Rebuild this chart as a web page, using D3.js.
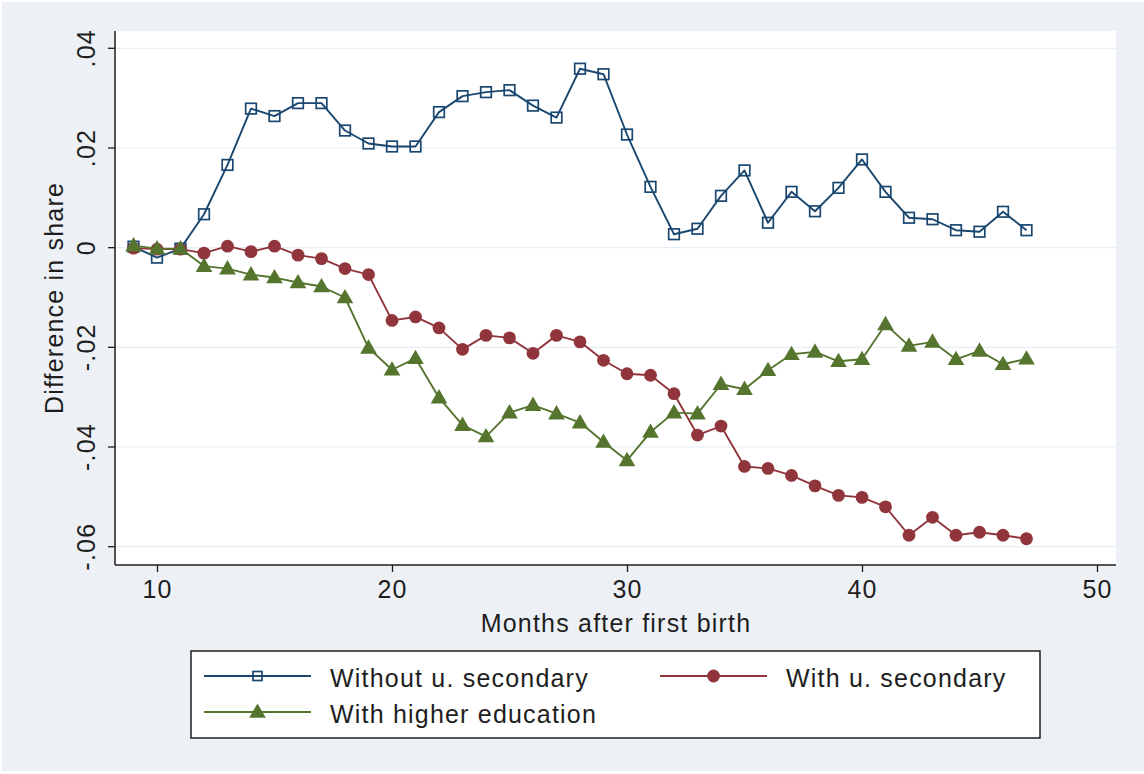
<!DOCTYPE html>
<html>
<head>
<meta charset="utf-8">
<script src="https://cdn.jsdelivr.net/npm/d3@7/dist/d3.min.js"></script>
<style>
  html, body { margin: 0; padding: 0; background: #ffffff; }
  svg { display: block; }
  text { font-family: "Liberation Sans", Arial, sans-serif; fill: #1e1e1e; letter-spacing: 1.2px; }
</style>
</head>
<body>
<svg id="chart" width="1144" height="774"></svg>
<script>
// Months after first birth
const months = [9,10,11,12,13,14,15,16,17,18,19,20,21,22,23,24,25,26,27,28,29,30,31,32,33,34,35,36,37,38,39,40,41,42,43,44,45,46,47];

// Difference in share, by education group
const withoutUSecondary = [0.0002,-0.0020,-0.0002,0.0067,0.0166,0.0279,0.0264,0.0290,0.0290,0.0235,0.0209,0.0203,0.0203,0.0272,0.0304,0.0312,0.0316,0.0285,0.0261,0.0359,0.0348,0.0227,0.0122,0.0027,0.0038,0.0104,0.0155,0.0050,0.0112,0.0073,0.0120,0.0177,0.0112,0.0060,0.0057,0.0035,0.0032,0.0072,0.0035];
const withUSecondary = [-0.0001,-0.0003,-0.0003,-0.0011,0.0003,-0.0008,0.0003,-0.0015,-0.0022,-0.0042,-0.0054,-0.0146,-0.0139,-0.0161,-0.0204,-0.0176,-0.0181,-0.0212,-0.0176,-0.0189,-0.0226,-0.0253,-0.0256,-0.0293,-0.0376,-0.0358,-0.0439,-0.0443,-0.0457,-0.0478,-0.0497,-0.0501,-0.0520,-0.0577,-0.0541,-0.0577,-0.0571,-0.0577,-0.0584];
const withHigherEducation = [0.0004,-0.0002,-0.0002,-0.0037,-0.0042,-0.0054,-0.0060,-0.0070,-0.0078,-0.0100,-0.0201,-0.0245,-0.0222,-0.0301,-0.0356,-0.0379,-0.0331,-0.0316,-0.0333,-0.0351,-0.0390,-0.0427,-0.0370,-0.0331,-0.0333,-0.0274,-0.0284,-0.0246,-0.0214,-0.0209,-0.0228,-0.0224,-0.0154,-0.0197,-0.0189,-0.0224,-0.0207,-0.0234,-0.0223];

const seriesNames = ["Without u. secondary", "With u. secondary", "With higher education"];
const xTicks = [10, 20, 30, 40, 50];
const yTicks = [0.04, 0.02, 0, -0.02, -0.04, -0.06];
const yTickLabels = [".04", ".02", "0", "-.02", "-.04", "-.06"];
const xTitle = "Months after first birth";
const yTitle = "Difference in share";

const navy = "#1a476f", maroon = "#90353b", green = "#55752f";
const ink = "#1e1e1e";
const fontSize = 25;

const svg = d3.select("#chart");

// graph region and plot region
const plot = { left: 115, right: 1116, top: 31, bottom: 565 };
svg.append("rect").attr("x", 2).attr("y", 2).attr("width", 1142).attr("height", 769).attr("fill", "#edf1f6");
svg.append("rect").attr("x", plot.left).attr("y", plot.top)
  .attr("width", plot.right - plot.left).attr("height", plot.bottom - plot.top).attr("fill", "#ffffff");

const x = d3.scaleLinear().domain([10, 50]).range([157, 1097]);
const y = d3.scaleLinear().domain([0.04, -0.06]).range([48.3, 546.7]);

// horizontal grid
svg.append("g").selectAll("line").data(yTicks).join("line")
  .attr("x1", plot.left).attr("x2", plot.right)
  .attr("y1", d => y(d)).attr("y2", d => y(d))
  .attr("stroke", "#e8eef5").attr("stroke-width", 1.2);

// y axis with vertical tick labels
const yAxis = d3.axisLeft(y).tickValues(yTicks).tickSize(7).tickSizeOuter(0)
  .tickFormat((d, i) => yTickLabels[i]);
const gy = svg.append("g").attr("transform", `translate(${plot.left},0)`).call(yAxis);
gy.select(".domain").attr("d", `M0,${plot.top}V${plot.bottom}`).attr("stroke", ink).attr("stroke-width", 1.5);
gy.selectAll(".tick").attr("transform", null);
gy.selectAll(".tick line").attr("stroke", ink).attr("stroke-width", 1.3)
  .attr("y1", d => y(d)).attr("y2", d => y(d)).attr("x2", -7);
gy.selectAll(".tick text")
  .attr("font-size", fontSize).attr("fill", ink)
  .attr("text-anchor", "middle")
  .attr("x", 0).attr("y", 0).attr("dy", 0)
  .attr("transform", d => `translate(-20,${y(d)}) rotate(-90)`);

// x axis
const xAxis = d3.axisBottom(x).tickValues(xTicks).tickSize(7).tickSizeOuter(0);
const gx = svg.append("g").attr("transform", `translate(0,${plot.bottom})`).call(xAxis);
gx.select(".domain").attr("d", `M${plot.left},0H${plot.right}`).attr("stroke", ink).attr("stroke-width", 1.5);
gx.selectAll(".tick line").attr("stroke", ink).attr("stroke-width", 1.3);
gx.selectAll(".tick text").attr("font-size", fontSize).attr("fill", ink).attr("y", 33).attr("dy", 0);

// axis titles
svg.append("text").attr("x", 616).attr("y", 632).attr("text-anchor", "middle")
  .attr("font-size", fontSize).text(xTitle);
svg.append("text").attr("transform", "translate(63,298) rotate(-90)").attr("text-anchor", "middle")
  .attr("font-size", fontSize).text(yTitle);

// series
const line = d3.line().x(d => x(d[0])).y(d => y(d[1]));
const zip = vals => months.map((m, i) => [m, vals[i]]);
const tri = d3.symbol().type(d3.symbolTriangle).size(120);

function drawMarkers(g, xy, color, marker, half) {
  if (marker === "square") {
    g.selectAll("rect.m").data(xy).join("rect").attr("class", "m")
      .attr("x", d => d[0] - half).attr("y", d => d[1] - half).attr("width", 2 * half).attr("height", 2 * half)
      .attr("fill", "none").attr("stroke", color).attr("stroke-width", 1.7);
  } else if (marker === "circle") {
    g.selectAll("circle.m").data(xy).join("circle").attr("class", "m")
      .attr("cx", d => d[0]).attr("cy", d => d[1]).attr("r", 6.4).attr("fill", color);
  } else {
    g.selectAll("path.m").data(xy).join("path").attr("class", "m")
      .attr("d", tri).attr("transform", d => `translate(${d[0]},${d[1] + 1})`).attr("fill", color);
  }
}

function drawSeries(vals, color, marker) {
  const pts = zip(vals);
  const g = svg.append("g");
  g.append("path").datum(pts).attr("d", line).attr("fill", "none")
    .attr("stroke", color).attr("stroke-width", 1.9).attr("stroke-linejoin", "round");
  drawMarkers(g, pts.map(p => [x(p[0]), y(p[1])]), color, marker, 5.3);
}

drawSeries(withoutUSecondary, navy, "square");
drawSeries(withUSecondary, maroon, "circle");
drawSeries(withHigherEducation, green, "triangle");

// legend
const lg = svg.append("g");
lg.append("rect").attr("x", 191).attr("y", 651).attr("width", 849).attr("height", 87)
  .attr("fill", "#ffffff").attr("stroke", ink).attr("stroke-width", 1.5);
const legendItems = [
  { name: seriesNames[0], color: navy, marker: "square", x0: 204, yy: 676 },
  { name: seriesNames[1], color: maroon, marker: "circle", x0: 660, yy: 676 },
  { name: seriesNames[2], color: green, marker: "triangle", x0: 204, yy: 712 }
];
legendItems.forEach(it => {
  const g = lg.append("g");
  g.append("line").attr("x1", it.x0).attr("x2", it.x0 + 107).attr("y1", it.yy).attr("y2", it.yy)
    .attr("stroke", it.color).attr("stroke-width", 1.8);
  drawMarkers(g, [[it.x0 + 53.5, it.yy]], it.color, it.marker, 4.5);
  g.append("text").attr("x", it.x0 + 126).attr("y", it.yy + 11)
    .attr("font-size", fontSize).text(it.name);
});
</script>
</body>
</html>
